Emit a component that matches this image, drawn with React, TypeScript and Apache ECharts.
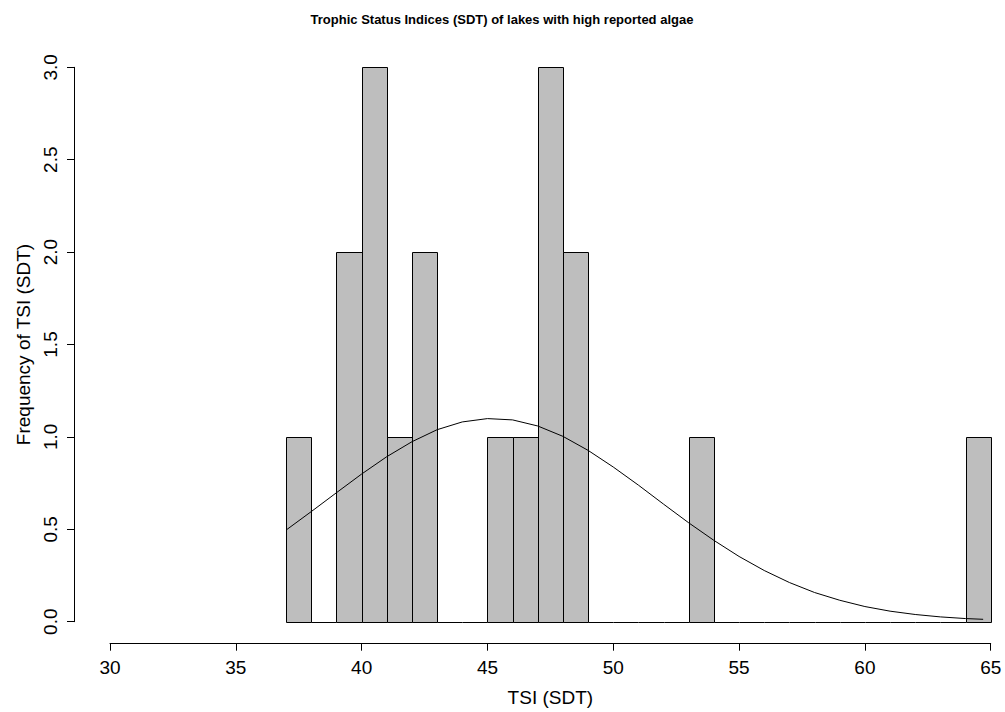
import React, { useEffect, useRef } from "react";
import * as echarts from "echarts";

const binStarts = [37, 38, 39, 40, 41, 42, 43, 44, 45, 46, 47, 48, 49, 50, 51, 52, 53, 54, 55, 56, 57, 58, 59, 60, 61, 62, 63, 64];
const binWidth = 1;
const counts = [1, 0, 2, 3, 1, 2, 0, 0, 1, 1, 3, 2, 0, 0, 0, 0, 1, 0, 0, 0, 0, 0, 0, 0, 0, 0, 0, 1];

const curveX = [37, 38, 39, 40, 41, 42, 43, 44, 45, 46, 47, 48, 49, 50, 51, 52, 53, 54, 55, 56, 57, 58, 59, 60, 61, 62, 63, 64, 64.7];
const curveY = [0.496, 0.596, 0.698, 0.799, 0.893, 0.974, 1.039, 1.081, 1.099, 1.092, 1.059, 1.003, 0.927, 0.837, 0.739, 0.636, 0.535, 0.44, 0.353, 0.277, 0.212, 0.158, 0.116, 0.082, 0.057, 0.039, 0.026, 0.017, 0.013];

const xTicks = { min: 30, max: 65, interval: 5 };
const yTicks = { min: 0, max: 3, interval: 0.5 };

const titleText = "Trophic Status Indices (SDT) of lakes with high reported algae";
const xTitle = "TSI (SDT)";
const yTitle = "Frequency of TSI (SDT)";

const FONT = "'Liberation Sans', Arial, Helvetica, sans-serif";

export default function App() {
  const ref = useRef<HTMLDivElement>(null);
  useEffect(() => {
    if (!ref.current) return;
    const chart = echarts.init(ref.current, null, { renderer: "svg" });
    const histData = binStarts.map((s, i) => [s, s + binWidth, counts[i]]);
    const snap = (v: number) => Math.round(v) + 0.5;
    const option: any = {
      animation: false,
      backgroundColor: "#ffffff",
      textStyle: { fontFamily: FONT },
      graphic: [
        {
          type: "text",
          x: 502,
          y: 19,
          style: {
            text: titleText,
            font: "bold 13px " + FONT,
            fill: "#000",
            textAlign: "center",
            textVerticalAlign: "middle",
          },
        },
      ],
      grid: { left: 110, right: 14.3, top: 67.3, bottom: 90.3, containLabel: false },
      xAxis: {
        type: "value",
        min: xTicks.min,
        max: xTicks.max,
        interval: xTicks.interval,
        offset: 22,
        splitLine: { show: false },
        axisLine: { show: true, onZero: false, lineStyle: { color: "#000", width: 1 } },
        axisTick: { show: true, length: 7, lineStyle: { color: "#000", width: 1 } },
        axisLabel: { color: "#000", fontSize: 19, lineHeight: 19, margin: 14, fontFamily: FONT },
        name: xTitle,
        nameLocation: "middle",
        nameGap: 44,
        nameTextStyle: { color: "#000", fontSize: 19, lineHeight: 19, fontFamily: FONT },
      },
      yAxis: {
        type: "value",
        min: yTicks.min,
        max: yTicks.max,
        interval: yTicks.interval,
        offset: 36,
        splitLine: { show: false },
        axisLine: { show: true, onZero: false, lineStyle: { color: "#000", width: 1 } },
        axisTick: { show: true, length: 7, lineStyle: { color: "#000", width: 1 } },
        axisLabel: {
          color: "#000",
          fontSize: 19,
          lineHeight: 19,
          margin: 14,
          rotate: 90,
          fontFamily: FONT,
          formatter: (v: number) => v.toFixed(1),
        },
        name: yTitle,
        nameLocation: "middle",
        nameGap: 29,
        nameTextStyle: { color: "#000", fontSize: 19, lineHeight: 19, fontFamily: FONT },
      },
      series: [
        {
          type: "custom",
          data: histData,
          encode: { x: [0, 1], y: 2 },
          renderItem: (params: any, api: any) => {
            const x0 = api.value(0);
            const x1 = api.value(1);
            const c = api.value(2);
            const pTop = api.coord([x0, c]);
            const pBot = api.coord([x1, 0]);
            const left = snap(pTop[0]);
            const right = snap(pBot[0]);
            const bottom = snap(pBot[1]);
            const top = snap(pTop[1]);
            if (c === 0) {
              return {
                type: "line",
                shape: { x1: left, y1: bottom, x2: right, y2: bottom },
                style: { stroke: "#000", lineWidth: 1 },
              };
            }
            return {
              type: "rect",
              shape: { x: left, y: top, width: right - left, height: bottom - top },
              style: { fill: "#BEBEBE", stroke: "#000", lineWidth: 1 },
            };
          },
        },
        {
          type: "line",
          data: curveX.map((x, i) => [x, curveY[i]]),
          showSymbol: false,
          symbol: "none",
          smooth: false,
          lineStyle: { color: "#000", width: 1 },
          z: 5,
        },
      ],
    };
    chart.setOption(option);
    return () => chart.dispose();
  }, []);
  return (
    <div
      ref={ref}
      style={{ position: "absolute", left: 0, top: 0, width: 1005, height: 712, background: "#fff" }}
    />
  );
}
